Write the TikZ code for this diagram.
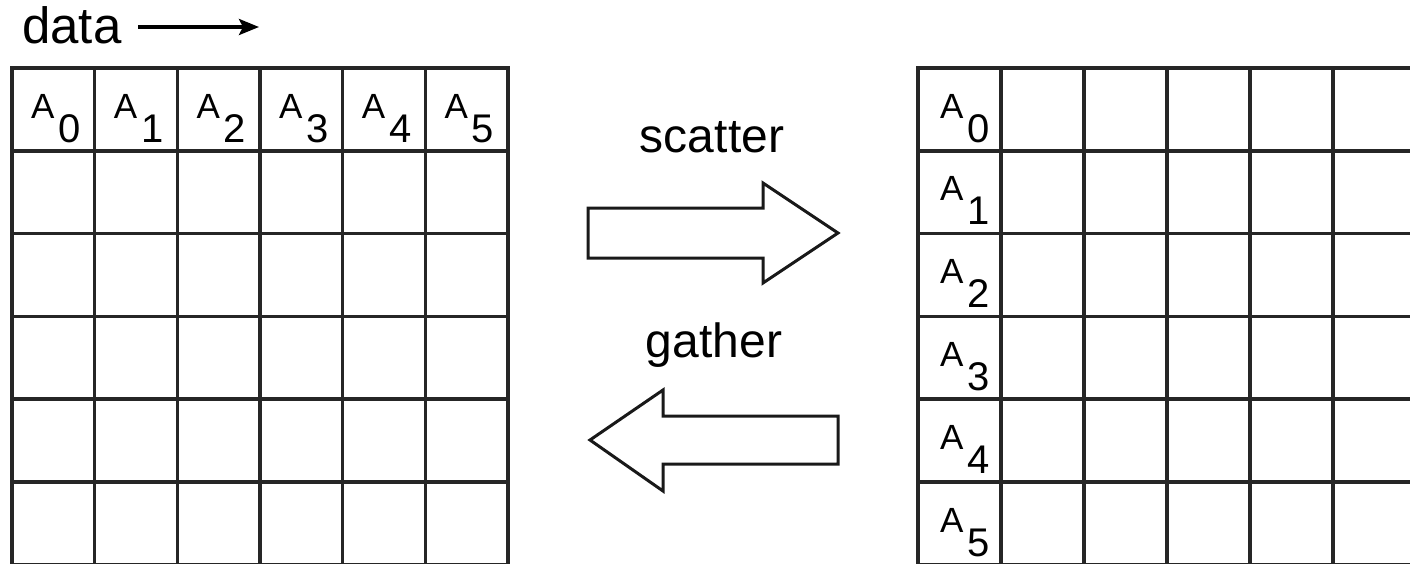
\documentclass[tikz,border=0pt]{standalone}
\usepackage{fontspec}
\setmainfont{Liberation Sans}
\usetikzlibrary{arrows.meta}
\newcommand{\bigfont}{\fontsize{48}{52}\selectfont}
\newcommand{\datafont}{\fontsize{51}{55}\selectfont}
\newcommand{\afont}{\fontsize{35}{38}\selectfont}
\newcommand{\dfont}{\fontsize{40}{43}\selectfont}
\newcommand{\cellA}[1]{\afont A\hspace{4pt}\raisebox{-24pt}{\dfont #1}}
\begin{document}
\begin{tikzpicture}[x=1pt,y=-1pt,
  gridline/.style={line width=3.5pt, black!85},
  blockarrow/.style={line width=3pt, draw=black!90, fill=white, line join=miter},
  dataarrow/.style={line width=3.5pt, -{Stealth[length=20pt,width=16pt,inset=4pt]}},
  bigtext/.style={inner sep=0pt, font=\bigfont},
  alab/.style={inner sep=0pt, anchor=base west}]
\useasboundingbox (0,0) rectangle (1410,563);
\begin{scope}
\clip (0,0) rectangle (1410,563);
% left grid
\foreach \i in {0,...,6} {
  \draw[gridline] ({12+82.667*\i},68) -- ({12+82.667*\i},575);
}
\foreach \j in {0,...,6} {
  \draw[gridline] (10.25,{68+82.8*\j}) -- (509.75,{68+82.8*\j});
}
% right grid
\foreach \i in {0,...,6} {
  \draw[gridline] ({918+83*\i},68) -- ({918+83*\i},575);
}
\foreach \j in {0,...,6} {
  \draw[gridline] (916.25,{68+82.8*\j}) -- (1420,{68+82.8*\j});
}
\end{scope}
% labels in left grid (first row)
\foreach \i in {0,...,5} {
  \node[alab] (L\i) at ({31+82.667*\i},118) {\cellA{\i}};
}
% labels in right grid (first column)
\foreach \j in {0,...,5} {
  \node[alab] (R\j) at (940,{118+82.8*\j}) {\cellA{\j}};
}
% data label and arrow
\node[inner sep=0pt, font=\datafont, anchor=base west] (data) at (22,43) {data};
\coordinate (ds) at (138,27);
\coordinate (de) at (259,27);
\draw[dataarrow] (ds) -- (de);
% scatter
\node[bigtext, anchor=base] (scatter) at (712,152) {scatter};
\draw[blockarrow] (588,208) -- (763,208) -- (763,183) -- (838,233) -- (763,283) -- (763,258) -- (588,258) -- cycle;
% gather
\node[bigtext, anchor=base] (gather) at (714,357) {gather};
\draw[blockarrow] (838,416) -- (663,416) -- (663,390) -- (590,440) -- (663,491) -- (663,464) -- (838,464) -- cycle;
\end{tikzpicture}
\end{document}
